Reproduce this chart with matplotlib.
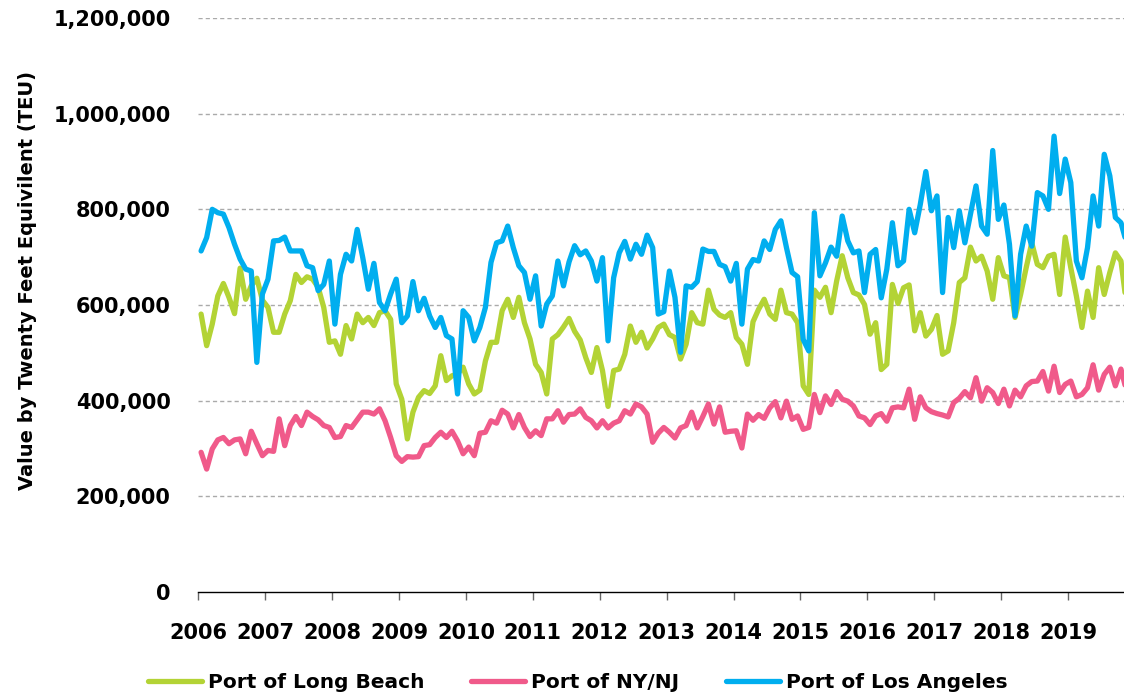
import numpy as np
import matplotlib
matplotlib.use("Agg")
import matplotlib.pyplot as plt
from matplotlib.ticker import FuncFormatter

# monthly TEU (thousands), Jan 2006 .. Nov 2019
long_beach = [581, 515, 560, 619, 645, 616, 582, 677, 612, 640, 656, 610,
              595, 543, 543, 581, 609, 664, 647, 659, 654, 637, 595, 522,
              525, 497, 557, 529, 581, 563, 574, 557, 584, 588, 570, 435,
              403, 320, 376, 407, 421, 415, 431, 494, 442, 452, 456, 470,
              435, 414, 422, 483, 522, 522, 588, 612, 574, 616, 563, 529,
              476, 459, 414, 529, 538, 554, 572, 545, 527, 490, 459, 511,
              463, 388, 463, 466, 497, 556, 522, 543, 510, 529, 553, 560,
              538, 532, 487, 518, 584, 563, 560, 631, 591, 579, 574, 584,
              532, 518, 476, 565, 591, 612, 581, 570, 631, 584, 581, 563,
              431, 413, 631, 616, 637, 584, 650, 703, 657, 626, 621, 601,
              539, 563, 465, 476, 643, 603, 636, 642, 546, 584, 535, 549,
              578, 497, 504, 563, 647, 657, 721, 692, 702, 671, 612, 699,
              661, 657, 574, 622, 678, 730, 685, 678, 702, 706, 622, 742,
              678, 619, 553, 629, 574, 678, 622, 668, 709, 692, 601]

ny_nj = [292, 257, 299, 318, 323, 310, 318, 320, 289, 336, 310, 285,
         296, 294, 362, 306, 348, 367, 348, 376, 367, 360, 348, 344,
         323, 325, 348, 344, 360, 376, 376, 372, 383, 358, 323, 285,
         273, 283, 282, 283, 306, 308, 323, 334, 323, 336, 316, 289,
         303, 285, 332, 334, 358, 353, 380, 372, 343, 371, 344, 325,
         337, 327, 362, 362, 379, 355, 371, 372, 383, 365, 358, 343,
         358, 343, 353, 358, 379, 372, 393, 387, 372, 313, 332, 344,
         334, 322, 343, 348, 376, 343, 367, 393, 351, 387, 334, 336,
         337, 301, 372, 359, 371, 363, 385, 398, 364, 399, 361, 368,
         340, 344, 413, 375, 410, 392, 419, 403, 399, 389, 368, 364,
         350, 368, 373, 357, 385, 387, 385, 424, 361, 408, 385, 377,
         373, 370, 366, 396, 405, 419, 406, 448, 399, 427, 417, 394,
         424, 389, 422, 408, 431, 440, 441, 461, 420, 472, 417, 434,
         441, 408, 413, 427, 475, 422, 455, 470, 431, 466, 420]

los_angeles = [713, 741, 800, 793, 790, 762, 727, 696, 675, 671, 480, 623,
               654, 734, 735, 742, 713, 713, 713, 682, 678, 630, 643, 692,
               560, 664, 706, 692, 758, 699, 633, 687, 605, 588, 623, 654,
               563, 577, 649, 588, 614, 577, 553, 574, 536, 529, 414, 588,
               574, 525, 553, 595, 689, 730, 734, 765, 720, 682, 668, 612,
               661, 556, 602, 619, 692, 640, 690, 724, 705, 713, 692, 650,
               699, 525, 657, 709, 733, 696, 727, 706, 746, 720, 581, 586,
               671, 616, 501, 640, 637, 649, 717, 712, 712, 685, 680, 650,
               687, 560, 675, 695, 692, 734, 716, 758, 776, 720, 668, 659,
               528, 504, 793, 661, 688, 721, 702, 786, 734, 709, 713, 626,
               706, 716, 615, 675, 772, 682, 692, 800, 751, 810, 879, 797,
               828, 626, 783, 720, 797, 730, 790, 849, 765, 748, 923, 779,
               809, 727, 577, 706, 765, 723, 835, 828, 800, 953, 833, 905,
               856, 692, 657, 720, 828, 765, 915, 870, 783, 772, 730]

years = list(range(2006, 2020))
y_ticks = [0, 200000, 400000, 600000, 800000, 1000000, 1200000]

series = [("Port of Long Beach", long_beach, "#b3d335"),
          ("Port of NY/NJ", ny_nj, "#f05a8a"),
          ("Port of Los Angeles", los_angeles, "#00aeef")]

months = np.arange(len(long_beach))
x = 2006 + (months + 0.5) / 12

plt.rcParams["font.family"] = "DejaVu Sans"
plt.rcParams["font.weight"] = "bold"

fig = plt.figure(figsize=(11.24, 6.96), dpi=100)
ax = fig.add_axes([198.3 / 1124, 1 - 592 / 696, 1 - 198.3 / 1124, (592 - 18) / 696])

for name, vals, col in series:
    ax.plot(x, np.array(vals) * 1000, color=col, lw=3.8, label=name,
            solid_joinstyle="round", solid_capstyle="round")

ax.set_xlim(2006, 2006 + (1124 - 198.3) / 66.9)
ax.set_ylim(0, 1200000)
ax.set_yticks(y_ticks)
ax.yaxis.set_major_formatter(FuncFormatter(lambda v, p: f"{int(v):,}"))
ax.set_xticks(years)
ax.set_xticklabels([str(y) for y in years])

for v in y_ticks[1:]:
    ax.axhline(v, color="#aaaaaa", lw=1, ls=(0, (3, 2.2)), zorder=0)

for s in ["top", "right", "left"]:
    ax.spines[s].set_visible(False)
ax.spines["bottom"].set_color("black")
ax.spines["bottom"].set_linewidth(1)

ax.tick_params(axis="y", length=0, pad=20, labelsize=15)
ax.tick_params(axis="x", length=6, width=1, color="#666666", pad=16, labelsize=15)
for lab in ax.get_xticklabels() + ax.get_yticklabels():
    lab.set_fontweight("bold")

fig.text(28 / 1124, 1 - 280 / 696, "Value by Twenty Feet Equivilent (TEU)",
         rotation=90, ha="center", va="center", fontsize=14, fontweight="bold")

fig.legend(loc="center", bbox_to_anchor=(0.514, 1 - 683 / 696), ncol=3,
           frameon=False, fontsize=14.5, handlelength=2.7, handletextpad=0.3,
           columnspacing=2.3, borderaxespad=0)

fig.savefig("out.png", dpi=100)
